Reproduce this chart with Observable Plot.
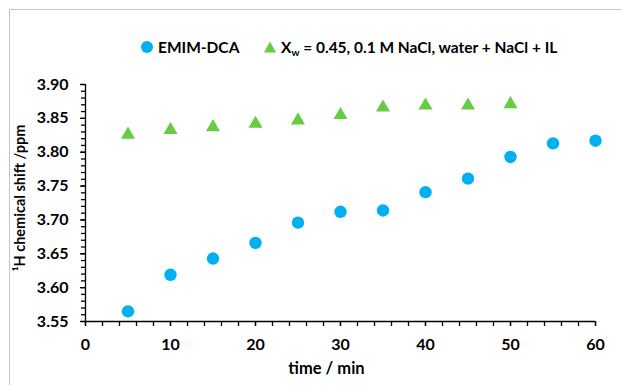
<!DOCTYPE html>
<html>
<head>
<meta charset="utf-8">
<script src="https://cdn.jsdelivr.net/npm/d3@7"></script>
<script src="https://cdn.jsdelivr.net/npm/@observablehq/plot@0.6"></script>
<style>
  html, body { margin: 0; padding: 0; background: #fff; overflow: hidden; }
  #wrap { position: relative; width: 621px; height: 385px; font-family: Lato, "Open Sans", sans-serif; font-weight: bold; }
  #frame { position: absolute; left: 9px; top: 9px; width: 800px; height: 600px; border: 1.5px solid #c4c4c4; box-sizing: border-box; }
  #legend { position: absolute; top: 36px; left: 0; width: 621px; height: 24px; font-size: 15.5px; color: #000; }
  .li { position: absolute; top: 0; white-space: nowrap; line-height: 22px; }
  .li svg { vertical-align: middle; margin-right: 5px; position: relative; top: -2px; }
  sub { font-size: 10px; vertical-align: -3px; }
  #chart { position: absolute; left: 0; top: 0; }
</style>
</head>
<body>
<div id="wrap">
  <div id="frame"></div>
  <div id="chart"></div>
  <div id="legend"></div>
</div>
<script>
const times = [5, 10, 15, 20, 25, 30, 35, 40, 45, 50, 55, 60];
const emimDca = [3.565, 3.619, 3.643, 3.666, 3.696, 3.712, 3.714, 3.741, 3.761, 3.793, 3.813, 3.817];
const timesMix = [5, 10, 15, 20, 25, 30, 35, 40, 45, 50];
const mixture = [3.826, 3.833, 3.837, 3.842, 3.847, 3.855, 3.866, 3.869, 3.869, 3.871];
const xTicks = [0, 10, 20, 30, 40, 50, 60];
const yTicks = [3.55, 3.60, 3.65, 3.70, 3.75, 3.80, 3.85, 3.90];
const seriesNames = ["EMIM-DCA", "Xw = 0.45, 0.1 M NaCl, water + NaCl + IL"];
const colors = ["#00B0F0", "#66CC44"];

const d1 = times.map((t, i) => ({t, v: emimDca[i]}));
const d2 = timesMix.map((t, i) => ({t, v: mixture[i]}));
const xMinor = d3.range(0, 61, 2);
const yMinor = d3.range(355, 391, 1).map(v => v / 100);

const font = "Lato, 'Open Sans', sans-serif";
const plot = Plot.plot({
  width: 621,
  height: 385,
  marginLeft: 85,
  marginRight: 26,
  marginTop: 84,
  marginBottom: 64,
  style: {fontFamily: font, fontSize: "16px", fontWeight: "bold", color: "#000", background: "transparent"},
  x: {domain: [0, 60]},
  y: {domain: [3.55, 3.90]},
  marks: [
    Plot.axisX({ticks: xMinor, tickSize: 5, strokeWidth: 1.3, stroke: "#000", tickFormat: () => "", label: null}),
    Plot.axisX({ticks: xTicks, tickSize: 5, strokeWidth: 1.3, stroke: "#000", tickPadding: 12, tickFormat: d => String(d), label: null, fontSize: 16}),
    Plot.axisY({ticks: yMinor, tickSize: 4, strokeWidth: 1.3, stroke: "#000", tickFormat: () => "", label: null}),
    Plot.axisY({ticks: yTicks, tickSize: 5, strokeWidth: 1.3, stroke: "#000", tickPadding: 12, tickFormat: d3.format(".2f"), label: null, fontSize: 16}),
    Plot.ruleX([0], {stroke: "#000", strokeWidth: 1.3}),
    Plot.ruleY([3.55], {stroke: "#000", strokeWidth: 1.3}),
    Plot.dot(d2, {x: "t", y: "v", symbol: "triangle", r: 5.2, fill: colors[1], stroke: "none"}),
    Plot.dot(d1, {x: "t", y: "v", symbol: "circle", r: 6.2, fill: colors[0], stroke: "none"}),
    Plot.text(["time / min"], {frameAnchor: "bottom", dx: -14, dy: 52, fontSize: 16.5, fontWeight: "bold", fill: "#000"}),
    Plot.text(["¹H chemical shift /ppm"], {frameAnchor: "left", textAnchor: "middle", dx: -65, dy: -5, rotate: -90, fontSize: 14.5, fontWeight: "bold", fill: "#000"})
  ]
});
document.getElementById("chart").appendChild(plot);

const legend = document.getElementById("legend");
const it1 = document.createElement("div");
it1.className = "li";
it1.style.left = "141px";
it1.innerHTML = `<svg width="12" height="12"><circle cx="6" cy="6" r="6" fill="${colors[0]}"/></svg>${seriesNames[0]}`;
legend.appendChild(it1);
const it2 = document.createElement("div");
it2.className = "li";
it2.style.left = "264px";
it2.innerHTML = `<svg width="12" height="12"><polygon points="6,0.5 12,11.5 0,11.5" fill="${colors[1]}"/></svg>X<sub>w</sub>${seriesNames[1].slice(2)}`;
legend.appendChild(it2);
</script>
</body>
</html>
